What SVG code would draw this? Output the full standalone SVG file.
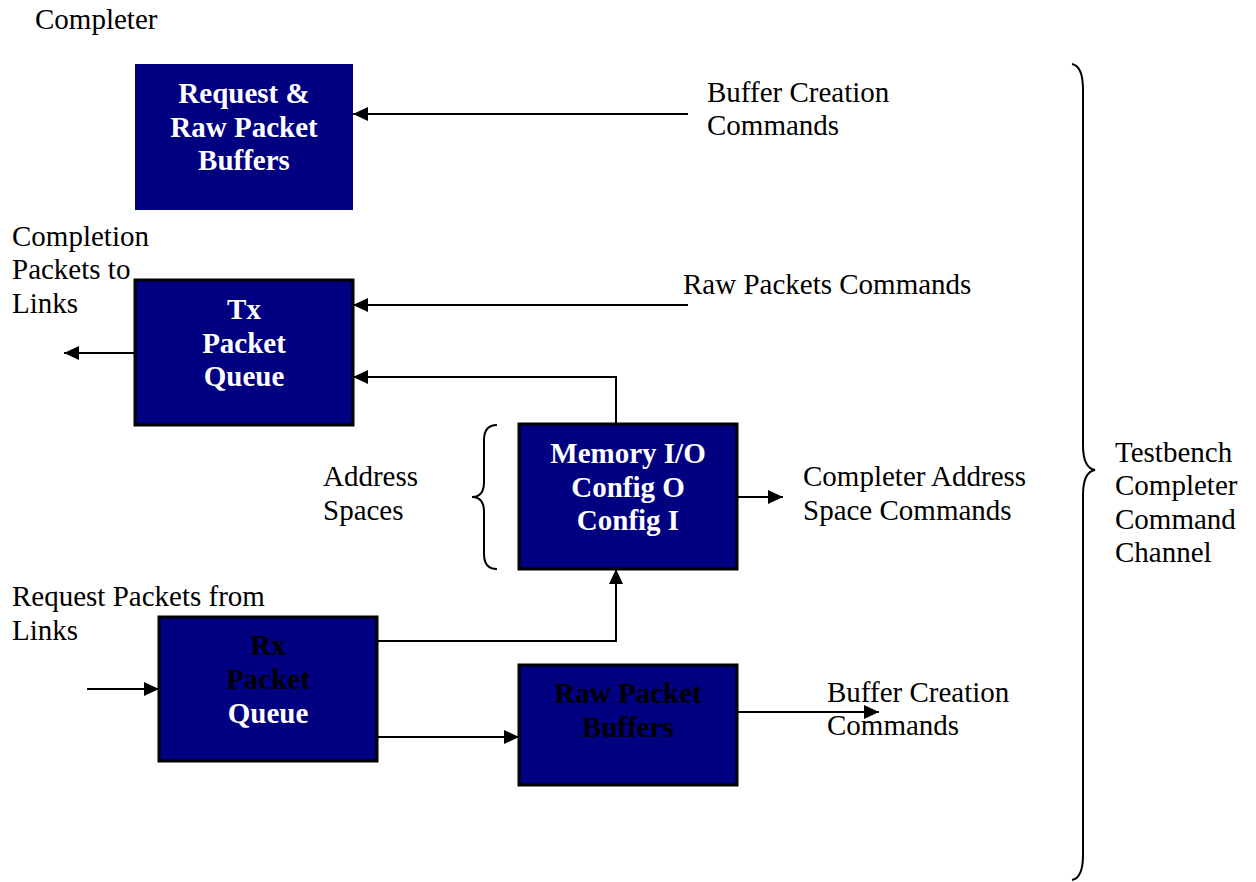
<svg xmlns="http://www.w3.org/2000/svg" width="1256" height="882" viewBox="0 0 1256 882">
<style>
.t{font-family:"Liberation Serif","Times New Roman",serif;font-size:29px;fill:#000}
.b{font-family:"Liberation Serif","Times New Roman",serif;font-size:29px;font-weight:bold;fill:#fff;text-anchor:middle}
.k{fill:#000}
.box{fill:#000080;stroke:#000;stroke-width:3}
.ln{fill:none;stroke:#000;stroke-width:2}
</style>
<defs>
<marker id="ah" viewBox="0 0 15 14" refX="15" refY="7" markerWidth="15" markerHeight="14" markerUnits="userSpaceOnUse" orient="auto">
<path d="M0,0 L15,7 L0,14 Z" fill="#000"/>
</marker>
</defs>
<rect width="1256" height="882" fill="#fff"/>
<text class="t" x="35" y="29">Completer</text>
<g id="req-buffers">
<rect x="135" y="64" width="218" height="146" fill="#000080"/>
<text class="b" x="244" y="103">Request &amp;</text>
<text class="b" x="244" y="137">Raw Packet</text>
<text class="b" x="244" y="170">Buffers</text>
</g>
<g id="tx-queue">
<rect class="box" x="135" y="280" width="218" height="145"/>
<text class="b" x="244" y="319">Tx</text>
<text class="b" x="244" y="353">Packet</text>
<text class="b" x="244" y="386">Queue</text>
</g>
<g id="mem">
<rect class="box" x="519" y="424" width="218" height="145"/>
<text class="b" x="628" y="463">Memory I/O</text>
<text class="b" x="628" y="497">Config O</text>
<text class="b" x="628" y="530">Config I</text>
</g>
<g id="rx-queue">
<rect class="box" x="159" y="617" width="218" height="144"/>
<text class="b k" x="268" y="655">Rx</text>
<text class="b k" x="268" y="689">Packet</text>
<text class="b" x="268" y="723">Queue</text>
</g>
<g id="raw-buffers">
<rect class="box" x="519" y="665" width="218" height="120"/>
<text class="b k" x="628" y="703">Raw Packet</text>
<text class="b k" x="628" y="737">Buffers</text>
</g>
<g id="labels">
<text class="t" x="707" y="102">Buffer Creation</text>
<text class="t" x="707" y="135">Commands</text>
<text class="t" x="12" y="246">Completion</text>
<text class="t" x="12" y="279">Packets to</text>
<text class="t" x="12" y="313">Links</text>
<text class="t" x="683" y="294">Raw Packets Commands</text>
<text class="t" x="323" y="486">Address</text>
<text class="t" x="323" y="520">Spaces</text>
<text class="t" x="803" y="486">Completer Address</text>
<text class="t" x="803" y="520">Space Commands</text>
<text class="t" x="12" y="606">Request Packets from</text>
<text class="t" x="12" y="640">Links</text>
<text class="t" x="827" y="702">Buffer Creation</text>
<text class="t" x="827" y="735">Commands</text>
<text class="t" x="1115" y="462">Testbench</text>
<text class="t" x="1115" y="495">Completer</text>
<text class="t" x="1115" y="529">Command</text>
<text class="t" x="1115" y="562">Channel</text>
</g>
<g id="connectors">
<path class="ln" d="M688,114 H353" marker-end="url(#ah)"/>
<path class="ln" d="M688,305 H353" marker-end="url(#ah)"/>
<path class="ln" d="M616,424 V377 H353" marker-end="url(#ah)"/>
<path class="ln" d="M135,353 H64" marker-end="url(#ah)"/>
<path class="ln" d="M737,497 H783" marker-end="url(#ah)"/>
<path class="ln" d="M87,689 H159" marker-end="url(#ah)"/>
<path class="ln" d="M377,641 H616 V569" marker-end="url(#ah)"/>
<path class="ln" d="M377,737 H519" marker-end="url(#ah)"/>
<path class="ln" d="M737,712 H879" marker-end="url(#ah)"/>
</g>
<g id="braces">
<path class="ln" d="M497,425 Q484,425 484,440 V482 Q484,497 472,497 Q484,497 484,512 V554 Q484,569 497,569"/>
<path class="ln" d="M1072,64 Q1083,66 1083,90 V445 Q1083,468 1095,470 Q1083,472 1083,495 V855 Q1083,878 1072,880"/>
</g>
</svg>
